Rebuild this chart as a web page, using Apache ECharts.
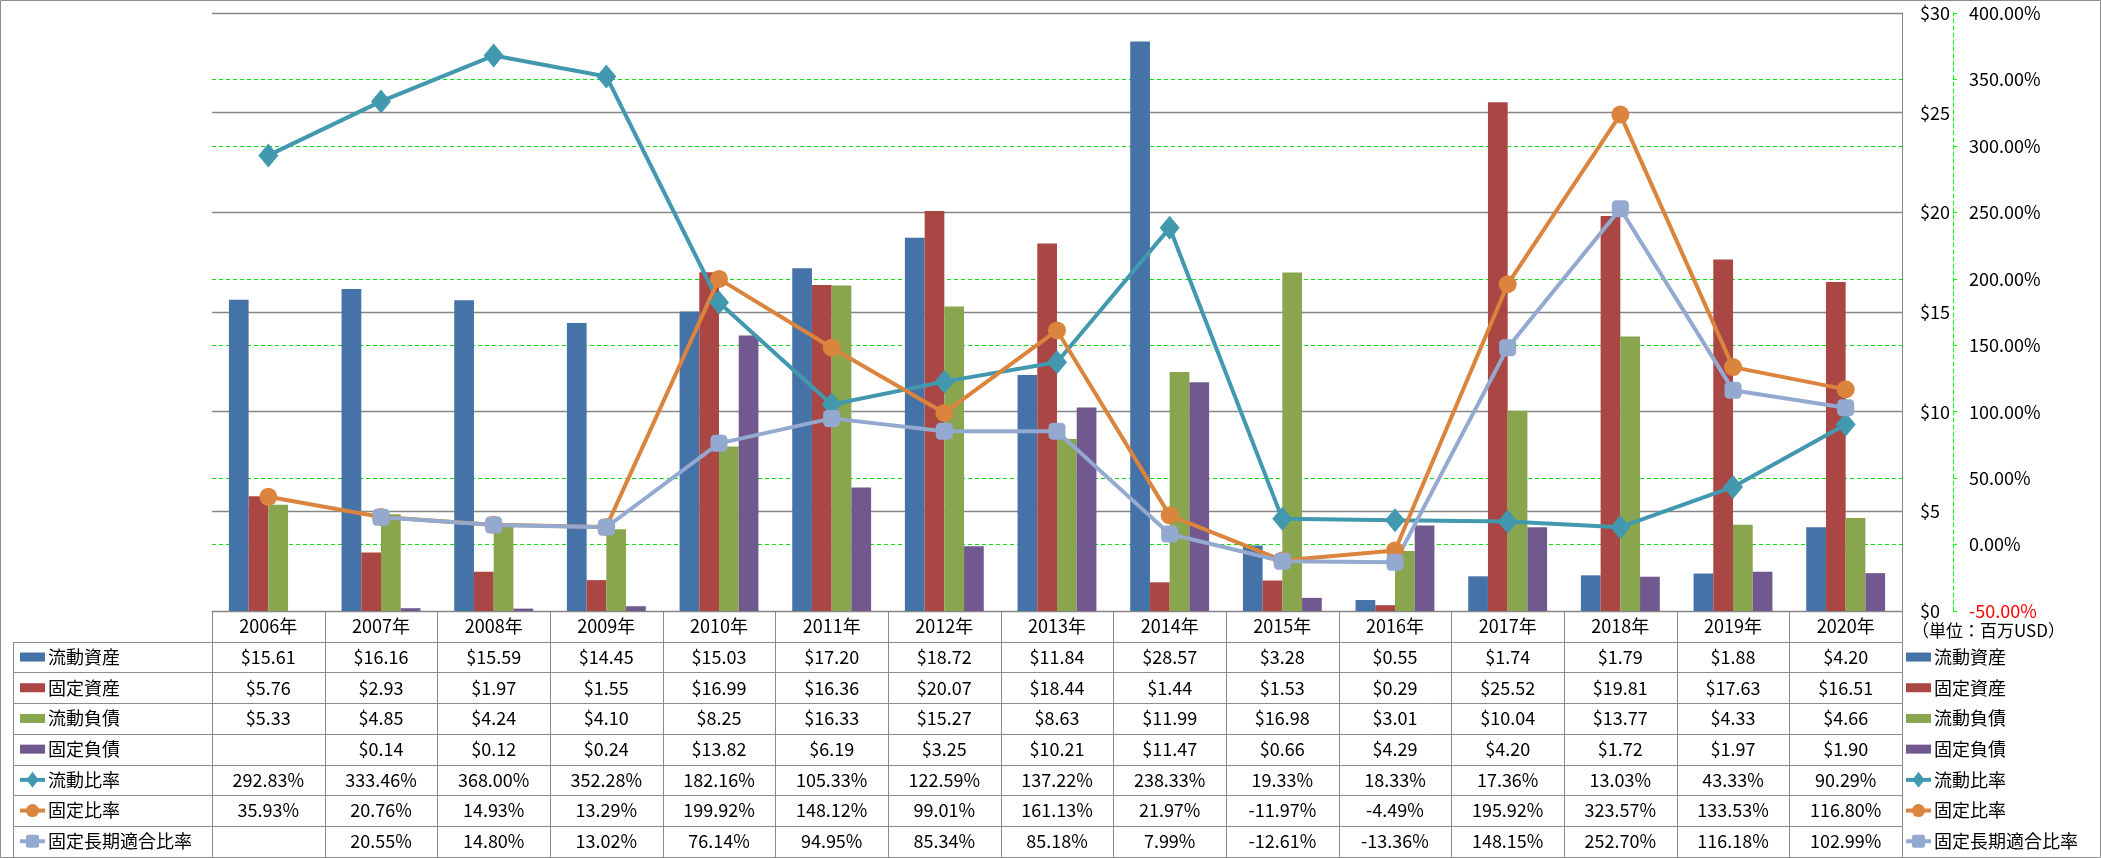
<!DOCTYPE html>
<html>
<head>
<meta charset="utf-8">
<script src="https://cdn.jsdelivr.net/npm/echarts@6/dist/echarts.min.js"></script>
<style>
html,body{margin:0;padding:0;background:#fff;}
#c{width:2101px;height:858px;}
</style>
</head>
<body>
<div id="c"></div>
<script>
// ---- data ----
const years = ['2006年','2007年','2008年','2009年','2010年','2011年','2012年','2013年','2014年','2015年','2016年','2017年','2018年','2019年','2020年'];
const currentAssets = [15.61,16.16,15.59,14.45,15.03,17.20,18.72,11.84,28.57,3.28,0.55,1.74,1.79,1.88,4.20];
const fixedAssets = [5.76,2.93,1.97,1.55,16.99,16.36,20.07,18.44,1.44,1.53,0.29,25.52,19.81,17.63,16.51];
const currentLiab = [5.33,4.85,4.24,4.10,8.25,16.33,15.27,8.63,11.99,16.98,3.01,10.04,13.77,4.33,4.66];
const fixedLiab = [null,0.14,0.12,0.24,13.82,6.19,3.25,10.21,11.47,0.66,4.29,4.20,1.72,1.97,1.90];
const currentRatio = [292.83,333.46,368.00,352.28,182.16,105.33,122.59,137.22,238.33,19.33,18.33,17.36,13.03,43.33,90.29];
const fixedRatio = [35.93,20.76,14.93,13.29,199.92,148.12,99.01,161.13,21.97,-11.97,-4.49,195.92,323.57,133.53,116.80];
const fixedLongRatio = [null,20.55,14.80,13.02,76.14,94.95,85.34,85.18,7.99,-12.61,-13.36,148.15,252.70,116.18,102.99];
const seriesNames = ['流動資産','固定資産','流動負債','固定負債','流動比率','固定比率','固定長期適合比率'];
const unitText = '（単位：百万USD）';

// ---- styles ----
const colors = ['#4572A7','#AA4643','#89A54E','#71588F','#4198AF','#DB843D','#93A9CF'];
const symbols = ['diamond','circle','roundRect'];
const W = 2101, H = 858;
const PL = 212, PR = 1902, PT = 13, PB = 611, RH = 30.7;
const FONT = '"Noto Sans CJK JP","Noto Sans",sans-serif';
const FS = 18;
const GRID_GRAY = '#868686';

const barData = [currentAssets, fixedAssets, currentLiab, fixedLiab];
const lineData = [currentRatio, fixedRatio, fixedLongRatio];

const fmtMoney = v => (v === null || v === undefined) ? ' ' : '$' + v.toFixed(2);
const fmtPct = v => (v === null || v === undefined) ? ' ' : v.toFixed(2) + '%';

const series = [];
barData.forEach((d, i) => {
  series.push({
    name: seriesNames[i], type: 'bar', yAxisIndex: 0, data: d,
    barGap: '0%', barCategoryGap: '30%',
    itemStyle: {color: colors[i]}, z: 2
  });
});
const symSizes = [[20,24],18,17];
lineData.forEach((d, i) => {
  series.push({
    name: seriesNames[4+i], type: 'line', yAxisIndex: 1, data: d,
    symbol: symbols[i], symbolSize: symSizes[i], showSymbol: true,
    connectNulls: false,
    lineStyle: {color: colors[4+i], width: 4},
    itemStyle: {color: colors[4+i]}, z: 5
  });
});

const chart = echarts.init(document.getElementById('c'), null, {renderer: 'canvas'});

// graphic elements: table borders, legends
const graphic = [];
const lineStyle = {stroke: '#8c8c8c', lineWidth: 1};
graphic.push({type: 'rect', shape: {x: 0.5, y: 0.5, width: W - 1, height: H - 1}, style: {fill: null, stroke: '#8c8c8c', lineWidth: 1}, silent: true});
for (let k = 1; k <= 8; k++) {
  const y = Math.round(PB + RH * k) + 0.5;
  graphic.push({type: 'line', shape: {x1: 13, y1: y, x2: PR, y2: y}, style: lineStyle, silent: true});
}
graphic.push({type: 'line', shape: {x1: 13.5, y1: Math.round(PB + RH) + 0.5, x2: 13.5, y2: Math.round(PB + RH * 8) + 0.5}, style: lineStyle, silent: true});
const colW = (PR - PL) / years.length;
for (let c = 0; c <= years.length; c++) {
  const x = Math.round(PL + colW * c) + 0.5;
  graphic.push({type: 'line', shape: {x1: x, y1: PB, x2: x, y2: Math.round(PB + RH * 8) + 0.5}, style: lineStyle, silent: true});
}
function legendKey(x, yc, i) {
  const items = [];
  if (i < 4) {
    items.push({type: 'rect', shape: {x: x, y: yc - 4.5, width: 25, height: 9}, style: {fill: colors[i]}, silent: true});
  } else {
    items.push({type: 'line', shape: {x1: x, y1: yc, x2: x + 25, y2: yc}, style: {stroke: colors[i], lineWidth: 4}, silent: true});
    const cx = x + 12.5;
    if (i === 4) {
      items.push({type: 'polygon', shape: {points: [[cx, yc - 8], [cx + 6, yc], [cx, yc + 8], [cx - 6, yc]]}, style: {fill: colors[i]}, silent: true});
    } else if (i === 5) {
      items.push({type: 'circle', shape: {cx: cx, cy: yc, r: 6.5}, style: {fill: colors[i]}, silent: true});
    } else {
      items.push({type: 'rect', shape: {x: cx - 6.5, y: yc - 6.5, width: 13, height: 13, r: 2}, style: {fill: colors[i]}, silent: true});
    }
  }
  return items;
}
seriesNames.forEach((n, i) => {
  const yc = PB + RH * (i + 1.5);
  legendKey(20, yc, i).forEach(g => graphic.push(g));
  graphic.push({type: 'text', x: 48, y: yc, style: {text: n, font: FS + 'px ' + FONT, fill: '#000', textVerticalAlign: 'middle', textAlign: 'left'}, silent: true});
  legendKey(1906, yc, i).forEach(g => graphic.push(g));
  graphic.push({type: 'text', x: 1934, y: yc, style: {text: n, font: FS + 'px ' + FONT, fill: '#000', textVerticalAlign: 'middle', textAlign: 'left'}, silent: true});
});
graphic.push({type: 'text', x: 1912, y: PB + RH * 0.65, style: {text: unitText, font: '17px ' + FONT, fill: '#000', textVerticalAlign: 'middle', textAlign: 'left'}, silent: true});

const option = {
  animation: false,
  backgroundColor: '#fff',
  textStyle: {fontFamily: FONT},
  grid: {left: PL, right: W - PR, top: PT, bottom: H - PB, containLabel: false, show: false},
  xAxis: {
    type: 'category', data: years,
    axisLine: {show: true, onZero: false, lineStyle: {color: GRID_GRAY, width: 1}},
    axisTick: {show: false},
    splitLine: {show: false},
    splitArea: {show: false},
    axisLabel: {
      interval: 0, margin: 0, fontSize: FS, color: '#000', lineHeight: RH, fontFamily: FONT,
      formatter: function (v, idx) {
        const lines = [v,
          fmtMoney(currentAssets[idx]), fmtMoney(fixedAssets[idx]), fmtMoney(currentLiab[idx]), fmtMoney(fixedLiab[idx]),
          fmtPct(currentRatio[idx]), fmtPct(fixedRatio[idx]), fmtPct(fixedLongRatio[idx])];
        return lines.join('\n');
      }
    }
  },
  yAxis: [
    {
      type: 'value', position: 'right', min: 0, max: 30, interval: 5, z: 2,
      axisLine: {show: true, onZero: false, lineStyle: {color: GRID_GRAY, width: 1}},
      axisTick: {show: false},
      axisLabel: {margin: 18, fontSize: FS, color: '#000', fontFamily: FONT, align: 'left', formatter: v => '$' + v},
      splitLine: {show: true, lineStyle: {color: GRID_GRAY, width: 1.3}}
    },
    {
      type: 'value', position: 'right', offset: 51, min: -50, max: 400, interval: 50, z: 1,
      axisLine: {show: true, onZero: false, lineStyle: {color: '#00ff00', width: 1, type: [4, 3]}},
      axisTick: {show: true, inside: false, length: 4, lineStyle: {color: '#00ff00', width: 1}},
      axisLabel: {
        margin: 16, fontSize: FS, color: '#000', fontFamily: FONT, align: 'left',
        formatter: v => v < 0 ? '{neg|' + v.toFixed(2) + '%}' : v.toFixed(2) + '%',
        rich: {neg: {color: '#ff0000', fontSize: FS, fontFamily: FONT}}
      },
      splitLine: {show: true, lineStyle: {color: '#00e000', width: 1, type: [4, 3]}}
    }
  ],
  series: series,
  graphic: graphic
};
chart.setOption(option);
</script>
</body>
</html>
